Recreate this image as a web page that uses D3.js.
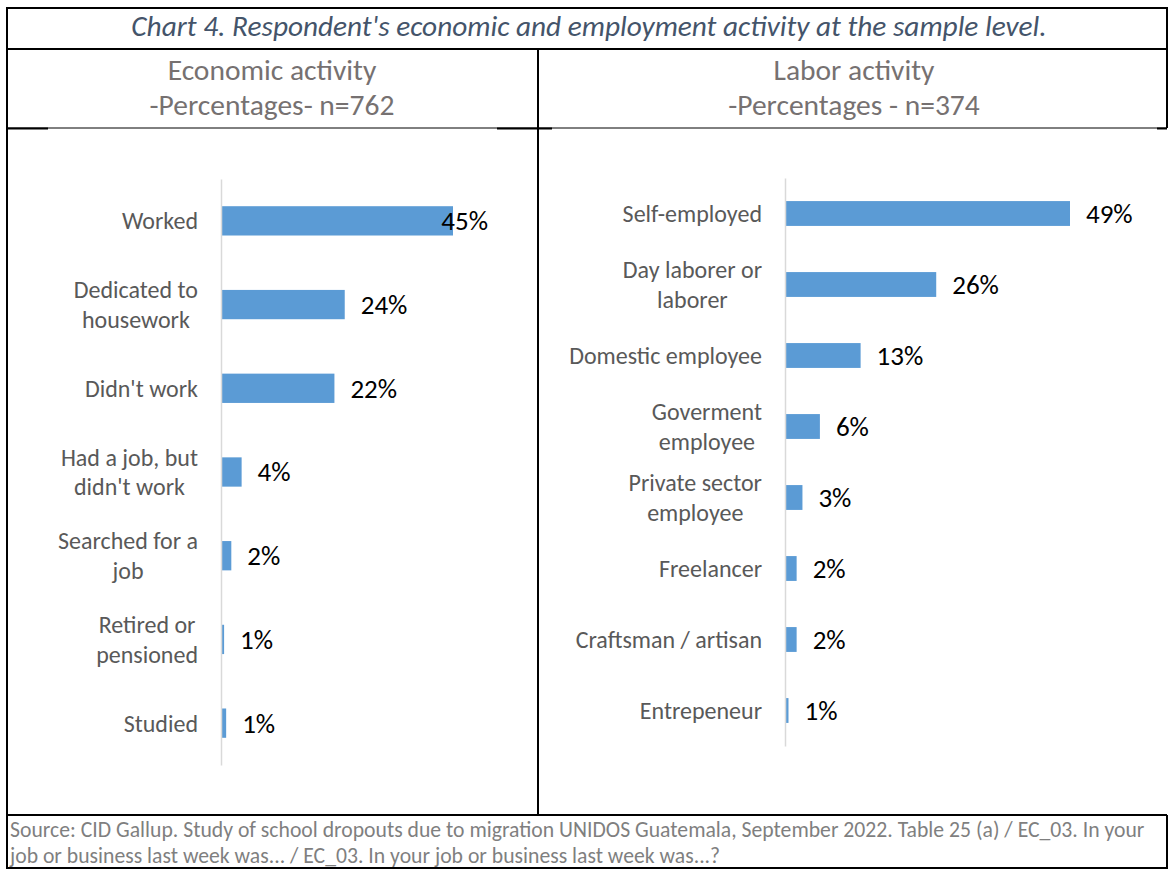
<!DOCTYPE html>
<html>
<head>
<meta charset="utf-8">
<script src="https://cdn.jsdelivr.net/npm/d3@7"></script>
<style>
  html, body { margin: 0; padding: 0; background: #fff; }
  svg { display: block; }
  text { font-family: Carlito, Calibri, Lato, "Liberation Sans", sans-serif; }
</style>
</head>
<body>
<svg id="chart" width="1169" height="870"></svg>
<script>
// Economic activity (n=762)
const econCategories = ["Worked", "Dedicated to\nhousework", "Didn't work", "Had a job, but\ndidn't work", "Searched for a\njob", "Retired or\npensioned", "Studied"];
const econValues = [45, 24, 22, 4, 2, 0.6, 1];

// Labor activity (n=374)
const laborCategories = ["Self-employed", "Day laborer or\nlaborer", "Domestic employee", "Goverment\nemployee", "Private sector\nemployee", "Freelancer", "Craftsman / artisan", "Entrepeneur"];
const laborValues = [49, 26, 13, 6, 3, 2, 2, 0.6];

const titleText = "Chart 4. Respondent's economic and employment activity at the sample level.";
const econHeader = ["Economic activity", "-Percentages- n=762"];
const laborHeader = ["Labor activity", "-Percentages - n=374"];
const sourceLines = [
  "Source: CID Gallup. Study of school dropouts due to migration UNIDOS Guatemala, September 2022.  Table 25 (a) / EC_03. In your",
  "job or business last week was... / EC_03. In your job or business last week was...?"
];

const BAR = "#5b9bd5";
const svg = d3.select("#chart");

// ---- table frame ----
const frame = svg.append("g").attr("stroke", "#000").attr("fill", "none");
const L = 7, R = 1167, T = 8, B = 868, MID = 538;
const rowTitle = 49, rowHead = 128, rowFoot = 815;
function line(x1, y1, x2, y2, w) {
  frame.append("line").attr("x1", x1).attr("y1", y1).attr("x2", x2).attr("y2", y2).attr("stroke-width", w);
}
line(L - 1, T, R + 1, T, 2);
line(L, T, L, B, 2);
line(R, T, R, rowHead, 2);
line(R, rowFoot, R, B, 2);
line(L - 1, B, R + 1, B, 2);
line(L, rowTitle, R, rowTitle, 2);
line(L, rowHead, R, rowHead, 1);
line(L, rowHead + 0.5, 48, rowHead + 0.5, 2);
line(497, rowHead + 0.5, 552, rowHead + 0.5, 2);
line(1157, rowHead + 0.5, R, rowHead + 0.5, 2);
line(MID, rowTitle, MID, rowFoot, 2);
line(L, rowFoot, R, rowFoot, 2);

// ---- title and panel headers ----
svg.append("text")
  .attr("x", 589).attr("y", 36)
  .attr("text-anchor", "middle")
  .attr("font-size", 29.3).attr("font-style", "italic")
  .attr("fill", "#44546a")
  .text(titleText);

function header(lines, cx) {
  const g = svg.append("g").attr("fill", "#767171").attr("font-size", 29.5);
  lines.forEach((t, i) => {
    g.append("text").attr("x", cx).attr("y", 80 + i * 35)
      .attr("text-anchor", "middle").text(t);
  });
}
header(econHeader, 272);
header(laborHeader, 854);

// ---- source note ----
sourceLines.forEach((t, i) => {
  svg.append("text").attr("x", 10).attr("y", 837 + i * 26)
    .attr("font-size", 21.7).attr("fill", "#7f7f7f").text(t);
});

// ---- bar panel ----
function panel(opts) {
  const { cats, vals, axisX, top, bottom, maxVal, maxPx, labelRightGap, plotRight } = opts;
  const g = svg.append("g");

  const x = d3.scaleLinear().domain([0, maxVal]).range([axisX, axisX + maxPx]);
  const y = d3.scaleBand().domain(cats).range([top, bottom]).paddingInner(opts.pad).paddingOuter(opts.pad / 2);

  // bars
  g.selectAll("rect.bar").data(vals).join("rect")
    .attr("class", "bar")
    .attr("x", axisX)
    .attr("y", (d, i) => y(cats[i]))
    .attr("width", d => x(d) - axisX)
    .attr("height", y.bandwidth())
    .attr("fill", BAR);

  // category axis (line only)
  const axis = g.append("g").attr("transform", `translate(${axisX},0)`)
    .call(d3.axisLeft(y).tickSize(0).tickFormat(""));
  axis.select(".domain").attr("stroke", "#d9d9d9").attr("stroke-width", 1.5);

  // category labels: block right-aligned, lines centred within the block
  cats.forEach(c => {
    const lines = c.split("\n");
    const cy = y(c) + y.bandwidth() / 2;
    const lh = 29.5;
    const tg = g.append("g").attr("fill", "#595959").attr("font-size", opts.catSize);
    const nodes = lines.map((t, i) => tg.append("text")
      .attr("y", cy + (i - (lines.length - 1) / 2) * lh)
      .attr("dy", "0.35em")
      .attr("text-anchor", "middle")
      .text(t));
    const w = d3.max(nodes, n => n.node().getComputedTextLength());
    const rightEdge = axisX - labelRightGap;
    nodes.forEach(n => n.attr("x", rightEdge - w / 2));
  });

  // value labels
  vals.forEach((v, i) => {
    const t = g.append("text")
      .attr("y", y(cats[i]) + y.bandwidth() / 2)
      .attr("dy", "0.35em")
      .attr("font-size", opts.valSize)
      .attr("fill", "#000")
      .text(d3.format(".0f")(v) + "%");
    const w = t.node().getComputedTextLength();
    t.attr("x", Math.min(x(v) + 16, plotRight - w));
  });
}

panel({
  cats: econCategories, vals: econValues,
  axisX: 221, top: 179, bottom: 765,
  maxVal: 45, maxPx: 232, pad: 0.65,
  labelRightGap: 23, plotRight: 488,
  catSize: 24, valSize: 27
});

panel({
  cats: laborCategories, vals: laborValues,
  axisX: 785, top: 178, bottom: 746,
  maxVal: 49, maxPx: 285, pad: 0.65,
  labelRightGap: 23, plotRight: 1160,
  catSize: 24, valSize: 27
});
</script>
</body>
</html>
